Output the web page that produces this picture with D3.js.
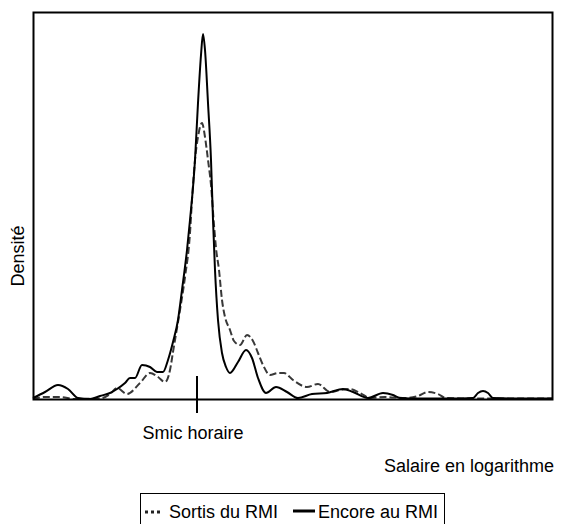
<!DOCTYPE html>
<html>
<head>
<meta charset="utf-8">
<script src="https://cdn.jsdelivr.net/npm/d3@7/dist/d3.min.js"></script>
<style>
  html, body { margin: 0; padding: 0; background: #fff; }
  svg { display: block; font-family: "Liberation Sans", Arial, Helvetica, sans-serif; }
</style>
</head>
<body>
<svg id="chart" width="567" height="524"></svg>
<script>
// Kernel density of log hourly wages, two groups of RMI recipients
const sortisX = [1.000, 1.060, 1.135, 1.210, 1.335, 1.385, 1.420, 1.470, 1.535, 1.585,
  1.625, 1.660, 1.685, 1.700, 1.710, 1.735, 1.760, 1.785, 1.795, 1.810,
  1.825, 1.845, 1.860, 1.875, 1.890, 1.905, 1.915, 1.930, 1.945, 1.960,
  1.985, 2.005, 2.035, 2.070, 2.100, 2.125, 2.150, 2.185, 2.225, 2.255,
  2.300, 2.370, 2.425, 2.485, 2.535, 2.585, 2.635, 2.685, 2.760, 2.860,
  2.925, 2.975, 3.025, 3.065, 3.235, 3.600];
const sortisY = [0.00, 0.02, 0.02, 0.00, 0.005, 0.05, 0.11, 0.05, 0.16, 0.26,
  0.22, 0.17, 0.29, 0.47, 0.59, 0.89, 1.22, 1.66, 1.99, 2.39,
  2.62, 2.76, 2.62, 2.39, 2.14, 1.74, 1.51, 1.29, 0.99, 0.82,
  0.69, 0.58, 0.54, 0.64, 0.58, 0.46, 0.34, 0.24, 0.26, 0.26,
  0.19, 0.12, 0.15, 0.07, 0.09, 0.10, 0.06, 0.01, 0.02, 0.01,
  0.03, 0.07, 0.05, 0.01, 0.005, 0.005];

const encoreX = [1.000, 1.060, 1.125, 1.175, 1.225, 1.285, 1.335, 1.385, 1.420, 1.460,
  1.485, 1.510, 1.545, 1.585, 1.620, 1.650, 1.675, 1.700, 1.725, 1.745,
  1.770, 1.785, 1.810, 1.825, 1.840, 1.850, 1.860, 1.875, 1.890, 1.900,
  1.910, 1.925, 1.945, 1.965, 1.985, 2.025, 2.065, 2.095, 2.125, 2.165,
  2.215, 2.270, 2.325, 2.395, 2.470, 2.550, 2.600, 2.675, 2.750, 2.800,
  2.835, 2.935, 3.085, 3.200, 3.225, 3.250, 3.275, 3.300, 3.435, 3.600];
const encoreY = [0.01, 0.07, 0.14, 0.10, 0.01, 0.00, 0.03, 0.06, 0.10, 0.16,
  0.21, 0.21, 0.34, 0.32, 0.27, 0.27, 0.39, 0.57, 0.79, 1.09,
  1.49, 1.79, 2.39, 2.96, 3.44, 3.65, 3.49, 2.96, 2.39, 1.79,
  1.29, 0.79, 0.46, 0.32, 0.26, 0.37, 0.49, 0.41, 0.21, 0.06,
  0.12, 0.07, 0.01, 0.05, 0.06, 0.10, 0.07, 0.01, 0.06, 0.04,
  0.01, 0.005, 0.005, 0.01, 0.06, 0.08, 0.06, 0.01, 0.005, 0.005];

const smicHoraire = 1.82;
const seriesNames = ["Sortis du RMI", "Encore au RMI"];

const svg = d3.select("#chart");

const x = d3.scaleLinear().domain([1.0, 3.6]).range([33, 553]);
const y = d3.scaleLinear().domain([0, 3.87]).range([399, 12]);

const line = d3.line()
  .x(d => x(d[0]))
  .y(d => y(d[1]))
  .curve(d3.curveMonotoneX);

const sortis = sortisX.map((v, i) => [v, sortisY[i]]);
const encore = encoreX.map((v, i) => [v, encoreY[i]]);

// density curves
svg.append("path")
  .datum(sortis)
  .attr("d", line)
  .attr("fill", "none")
  .attr("stroke", "#383838")
  .attr("stroke-width", 2)
  .attr("stroke-dasharray", "7,3");

svg.append("path")
  .datum(encore)
  .attr("d", line)
  .attr("fill", "none")
  .attr("stroke", "#000")
  .attr("stroke-width", 2);

// plot frame
svg.append("rect")
  .attr("x", x.range()[0] + 0.5)
  .attr("y", y.range()[1] + 0.5)
  .attr("width", x.range()[1] - x.range()[0] - 1)
  .attr("height", y.range()[0] - y.range()[1])
  .attr("fill", "none")
  .attr("stroke", "#000")
  .attr("stroke-width", 2);

// minimum wage marker
const sx = Math.round(x(smicHoraire));
svg.append("line")
  .attr("x1", sx).attr("x2", sx)
  .attr("y1", 376).attr("y2", 413)
  .attr("stroke", "#000")
  .attr("stroke-width", 2);

svg.append("text")
  .attr("x", sx - 4)
  .attr("y", 439)
  .attr("text-anchor", "middle")
  .attr("font-size", 18)
  .text("Smic horaire");

// axis titles
svg.append("text")
  .attr("x", 554)
  .attr("y", 472)
  .attr("text-anchor", "end")
  .attr("font-size", 18)
  .text("Salaire en logarithme");

svg.append("text")
  .attr("transform", "translate(24,256) rotate(-90)")
  .attr("text-anchor", "middle")
  .attr("font-size", 18)
  .text("Densité");

// legend
const lg = svg.append("g");
lg.append("rect")
  .attr("x", 140.5).attr("y", 493.5)
  .attr("width", 304).attr("height", 40)
  .attr("fill", "none")
  .attr("stroke", "#000")
  .attr("stroke-width", 1);

lg.append("line")
  .attr("x1", 145).attr("x2", 163)
  .attr("y1", 512).attr("y2", 512)
  .attr("stroke", "#222")
  .attr("stroke-width", 3)
  .attr("stroke-dasharray", "3,3");
lg.append("text")
  .attr("x", 169).attr("y", 518)
  .attr("font-size", 18)
  .text(seriesNames[0]);

lg.append("line")
  .attr("x1", 293).attr("x2", 315)
  .attr("y1", 511).attr("y2", 511)
  .attr("stroke", "#000")
  .attr("stroke-width", 3);
lg.append("text")
  .attr("x", 318).attr("y", 518)
  .attr("font-size", 18)
  .text(seriesNames[1]);
</script>
</body>
</html>
